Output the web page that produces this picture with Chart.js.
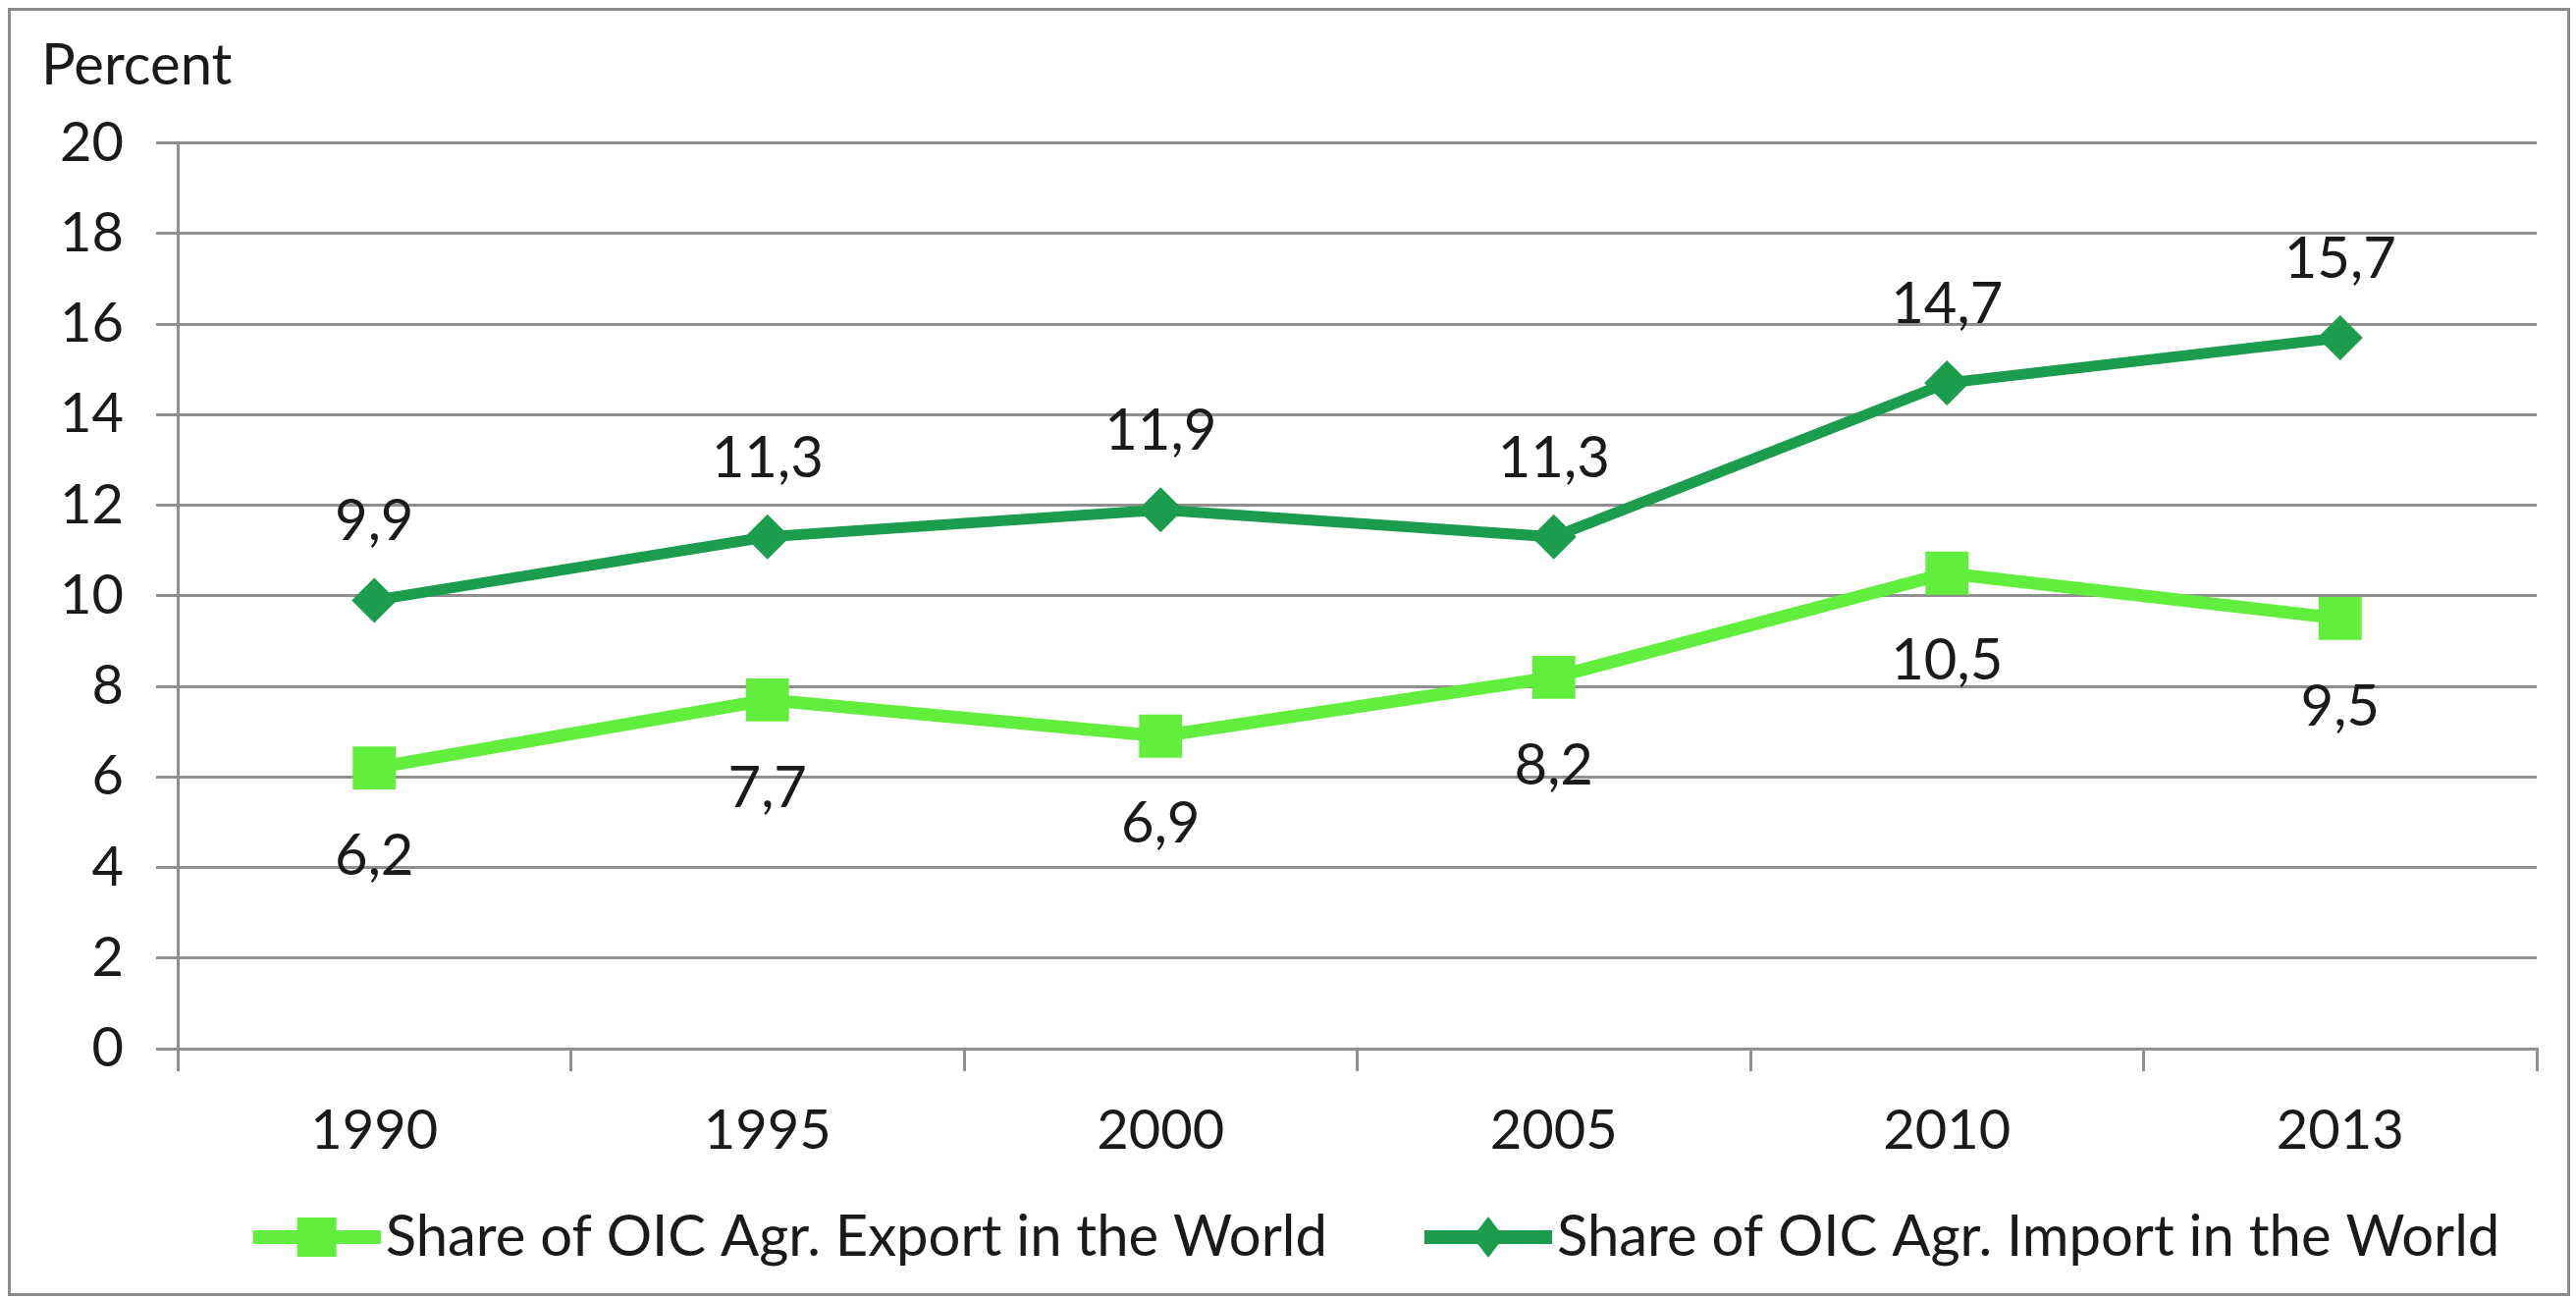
<!DOCTYPE html>
<html>
<head>
<meta charset="utf-8">
<script src="https://cdn.jsdelivr.net/npm/chart.js@4.4.0/dist/chart.umd.min.js"></script>
<style>
body { margin: 0; background: #fff; }
#box { position: absolute; left: 8px; top: 8px; width: 2604px; height: 1306px; border: 3px solid #8c8c8c; background: #fff; }
</style>
</head>
<body>
<div id="box"><canvas id="chart1"></canvas></div>
<script>
/* datos */
var years = ['1990', '1995', '2000', '2005', '2010', '2013'];
var exportShare = [6.2, 7.7, 6.9, 8.2, 10.5, 9.5];
var importShare = [9.9, 11.3, 11.9, 11.3, 14.7, 15.7];
var seriesNames = ['Share of OIC Agr. Export in the World', 'Share of OIC Agr. Import in the World'];

var lightGreen = '#62ee3c';
var darkGreen = '#1c9d4e';
var gridGrey = '#8f8f8f';
var textColor = '#1a1a1a';

Chart.defaults.font.family = 'Lato';
Chart.defaults.font.size = 56;
Chart.defaults.color = textColor;

/* marcador de leyenda: linea + simbolo */
var legendLead = 35, legendLine = 130, legendShiftPx = 24;
function legendMarker(color, style) {
    var boxW = legendLead + legendLine;
    var c = document.createElement('canvas');
    c.width = boxW + 2 * legendShiftPx;
    c.height = 46;
    var g = c.getContext('2d');
    var x0 = legendLead + 2 * legendShiftPx;
    g.strokeStyle = color;
    g.fillStyle = color;
    g.lineWidth = 14;
    g.beginPath();
    g.moveTo(x0, 23);
    g.lineTo(c.width, 23);
    g.stroke();
    var cx = x0 + legendLine / 2;
    if (style == 'rect') {
        g.fillRect(cx - 20, 3, 40, 40);
    } else {
        g.beginPath();
        g.moveTo(cx, 2);
        g.lineTo(cx + 16, 23);
        g.lineTo(cx, 44);
        g.lineTo(cx - 16, 23);
        g.closePath();
        g.fill();
    }
    return c;
}
var markers = [legendMarker(lightGreen, 'rect'), legendMarker(darkGreen, 'diamond')];

/* etiquetas de valores */
var valueLabels = {
    id: 'valueLabels',
    afterDatasetsDraw: function (chart) {
        var offsets = [90, -80];
        var ctx = chart.ctx;
        ctx.save();
        ctx.font = '58px Lato';
        ctx.fillStyle = textColor;
        ctx.textAlign = 'center';
        ctx.textBaseline = 'middle';
        chart.data.datasets.forEach(function (ds, i) {
            chart.getDatasetMeta(i).data.forEach(function (pt, j) {
                ctx.fillText(ds.data[j].toFixed(1).replace('.', ','), pt.x, pt.y + offsets[i]);
            });
        });
        ctx.restore();
    }
};

/* mover leyenda */
var legendShift = {
    id: 'legendShift',
    afterLayout: function (chart) {
        chart.legend.left += 56;
        chart.legend.right += 56;
    }
};

var ctx1 = document.getElementById('chart1').getContext('2d');
var myChart = new Chart(ctx1, {
    type: 'line',
    data: {
        labels: years,
        datasets: [{
            label: seriesNames[0],
            data: exportShare,
            borderColor: lightGreen,
            backgroundColor: lightGreen,
            borderWidth: 13,
            pointStyle: 'rect',
            pointRadius: 31,
            pointBorderWidth: 0,
            pointBackgroundColor: lightGreen,
            tension: 0
        }, {
            label: seriesNames[1],
            data: importShare,
            borderColor: darkGreen,
            backgroundColor: darkGreen,
            borderWidth: 11,
            pointStyle: 'rectRot',
            pointRadius: 23,
            pointBorderWidth: 0,
            pointBackgroundColor: darkGreen,
            tension: 0
        }]
    },
    options: {
        responsive: true,
        maintainAspectRatio: false,
        animation: false,
        layout: { padding: { left: 31, right: 24, top: 0, bottom: 18 } },
        plugins: {
            tooltip: { enabled: false },
            title: {
                display: true,
                text: 'Percent',
                align: 'start',
                color: textColor,
                font: { size: 58, weight: 'normal' },
                padding: { top: 21, bottom: 44 }
            },
            legend: {
                position: 'bottom',
                labels: {
                    usePointStyle: true,
                    pointStyleWidth: legendLead + legendLine,
                    padding: 40,
                    color: textColor,
                    font: { size: 58 },
                    generateLabels: function (chart) {
                        return chart.data.datasets.map(function (ds, i) {
                            return {
                                text: ds.label,
                                pointStyle: markers[i],
                                fillStyle: ds.borderColor,
                                strokeStyle: ds.borderColor,
                                lineWidth: 0,
                                fontColor: textColor,
                                hidden: false,
                                datasetIndex: i
                            };
                        });
                    }
                }
            }
        },
        scales: {
            x: {
                offset: true,
                grid: { offset: true, drawOnChartArea: false, color: gridGrey, lineWidth: 3, tickLength: 23 },
                border: { color: gridGrey, width: 3 },
                ticks: { padding: 27, maxRotation: 0 },
                afterFit: function (scale) { scale.height = 123; }
            },
            y: {
                min: 0,
                max: 20,
                ticks: { stepSize: 2, padding: 33 },
                grid: { color: gridGrey, lineWidth: 3, tickLength: 22 },
                border: { color: gridGrey, width: 3 },
                afterFit: function (scale) { scale.width = 139; }
            }
        }
    },
    plugins: [valueLabels, legendShift]
});
</script>
</body>
</html>
